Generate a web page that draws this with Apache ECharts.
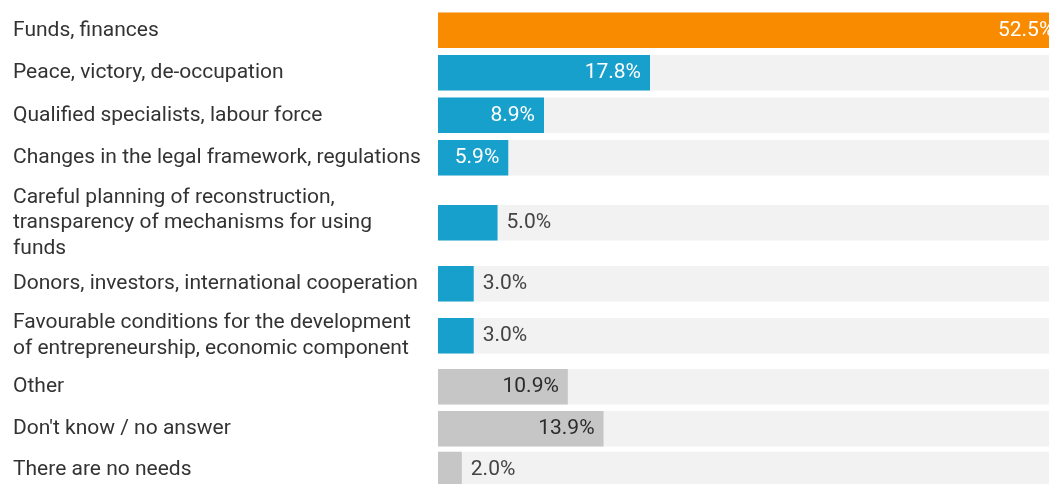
<!DOCTYPE html>
<html>
<head>
<meta charset="utf-8">
<style>
  html, body { margin: 0; padding: 0; background: #ffffff; }
  #chart { width: 1049px; height: 484px; }
</style>
<script src="https://cdn.jsdelivr.net/npm/echarts@6/dist/echarts.min.js"></script>
</head>
<body>
<div id="chart"></div>
<script>
// Survey answers: what is needed for reconstruction (share of respondents, %)
const categories = [
  'Funds, finances',
  'Peace, victory, de-occupation',
  'Qualified specialists, labour force',
  'Changes in the legal framework, regulations',
  'Careful planning of reconstruction,\ntransparency of mechanisms for using\nfunds',
  'Donors, investors, international cooperation',
  'Favourable conditions for the development\nof entrepreneurship, economic component',
  'Other',
  "Don't know / no answer",
  'There are no needs'
];
const values = [52.5, 17.8, 8.9, 5.9, 5.0, 3.0, 3.0, 10.9, 13.9, 2.0];
// answer group of each row: lead answer, substantive answers, neutral answers
const groups = ['lead', 'main', 'main', 'main', 'main', 'main', 'main', 'neutral', 'neutral', 'neutral'];

// Row layout (one grid per row so that wrapped labels get taller rows)
const rowTops = [12.5, 55, 97.5, 140, 205, 266, 318, 369, 411, 455];
const barHeight = 35.5;
const plotLeft = 438;
// value scale end at the right edge of the page; the longest bar runs past it
const axisMax = 51.3;

const groupColor = { lead: '#F98B00', main: '#18A0CC', neutral: '#C6C6C6' };
const insideTextColor = { lead: '#ffffff', main: '#ffffff', neutral: '#2b2b2b' };

const FONT = 'Roboto, "Noto Sans", sans-serif';

const grids = [], xAxes = [], yAxes = [], series = [];
categories.forEach((name, i) => {
  grids.push({ left: plotLeft, right: 0, top: rowTops[i], height: barHeight });
  xAxes.push({
    gridIndex: i, type: 'value', min: 0, max: axisMax,
    show: false
  });
  yAxes.push({
    gridIndex: i, type: 'category', data: [name],
    axisLine: { show: false }, axisTick: { show: false }, splitLine: { show: false },
    axisLabel: {
      align: 'left', margin: plotLeft - 13,
      padding: [3, 0, 0, 0],
      fontFamily: FONT, fontSize: 21, lineHeight: 25.5, color: '#333333'
    }
  });
  const g = groups[i];
  const inside = values[i] >= 5.5;
  series.push({
    type: 'bar', xAxisIndex: i, yAxisIndex: i,
    barWidth: barHeight,
    silent: true,
    clip: false,
    showBackground: true,
    backgroundStyle: { color: '#F2F2F2' },
    itemStyle: { color: groupColor[g] },
    label: {
      show: true,
      position: inside ? 'insideRight' : 'right',
      distance: 9,
      padding: [3, 0, 0, 0],
      formatter: p => p.value.toFixed(1) + '%',
      fontFamily: FONT, fontSize: 21,
      color: inside ? insideTextColor[g] : '#444444'
    },
    data: [values[i]]
  });
});

const chart = echarts.init(document.getElementById('chart'), null, { renderer: 'canvas' });
chart.setOption({
  animation: false,
  backgroundColor: '#ffffff',
  grid: grids,
  xAxis: xAxes,
  yAxis: yAxes,
  series: series
});
</script>
</body>
</html>
